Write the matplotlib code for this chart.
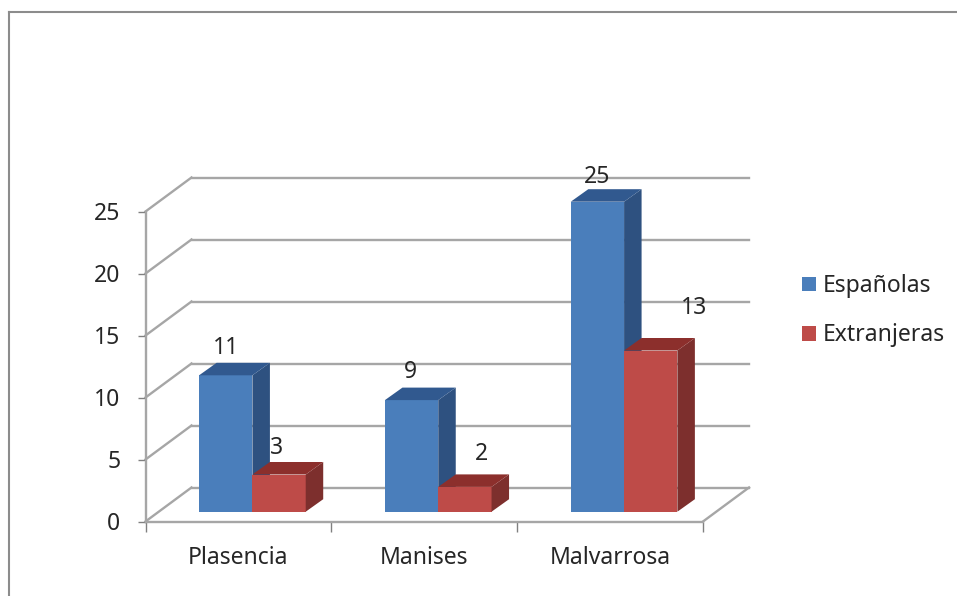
from matplotlib import pyplot as plt
from matplotlib.lines import Line2D
from matplotlib.patches import Polygon
import numpy as np

categories = ['Plasencia', 'Manises', 'Malvarrosa']
espanolas = [11, 9, 25]
extranjeras = [3, 2, 13]
y_ticks = [0, 5, 10, 15, 20, 25]

W, H = 957, 596
GRID = '#a6a6a6'
TEXT = '#262626'
FS = 16.5

plt.rcParams['font.family'] = ['Noto Sans', 'DejaVu Sans']

fig = plt.figure(figsize=(W / 100, H / 100), dpi=100)
# axes box is the front plane of the fake 3D chart
ax = fig.add_axes([145.5 / W, 1 - 521.5 / H, 557.5 / W, 310 / H])
ax.set_xlim(0, 3)
ax.set_ylim(0, 25)

px_x = 3 / 557.5
px_y = 25 / 310

# depth of the chart floor and of the bars
wall_dx, wall_dy = 46 * px_x, 34 * px_y
front_dx, front_dy = 14 * px_x, 9.8 * px_y
bar_dx, bar_dy = 17.5 * px_x, 12.5 * px_y
bar_w = 53.3 * px_x

# back wall and floor
for t in y_ticks:
    ax.plot([0, wall_dx], [t, t + wall_dy], color=GRID, lw=1.7, clip_on=False, zorder=1)
    ax.plot([wall_dx, 3 + wall_dx], [t + wall_dy, t + wall_dy], color=GRID, lw=1.7, clip_on=False, zorder=1)
ax.plot([3, 3 + wall_dx], [0, wall_dy], color=GRID, lw=1.7, clip_on=False, zorder=1)


def bar3d(x, value, front, side, top, label):
    ax.bar(x, value, bar_w, bottom=front_dy, align='edge', color=front, clip_on=False,
           zorder=3, label=label)
    y1 = front_dy + value
    ax.add_patch(Polygon([(x + bar_w, front_dy), (x + bar_w + bar_dx, front_dy + bar_dy),
                          (x + bar_w + bar_dx, y1 + bar_dy), (x + bar_w, y1)],
                         color=side, lw=0, clip_on=False, zorder=3))
    ax.add_patch(Polygon([(x, y1), (x + bar_dx, y1 + bar_dy),
                          (x + bar_w + bar_dx, y1 + bar_dy), (x + bar_w, y1)],
                         color=top, lw=0, clip_on=False, zorder=3))


for i in range(3):
    left = i + 0.5 - bar_w + front_dx
    bar3d(left, espanolas[i], '#4a7ebb', '#2e5180', '#31598f',
          'Españolas' if i == 0 else None)
    bar3d(left + bar_w, extranjeras[i], '#be4b48', '#7d2f2d', '#8c2f2c',
          'Extranjeras' if i == 0 else None)

# data labels, moved by hand like in the original chart
blue_offsets = [(0, 27), (-1, 28), (0, 25)]
red_offsets = [(-3, 26), (17, 33), (43, 42)]
for i in range(3):
    left = i + 0.5 - bar_w + front_dx
    for x, v, off in [(left + bar_w / 2, espanolas[i], blue_offsets[i]),
                      (left + bar_w * 1.5, extranjeras[i], red_offsets[i])]:
        ax.annotate(str(v), (x, v + front_dy), xytext=(off[0] * 0.72, off[1] * 0.72),
                    textcoords='offset points', ha='center', va='center',
                    fontsize=FS, color=TEXT, zorder=5, annotation_clip=False)

for s in ['top', 'right']:
    ax.spines[s].set_visible(False)
for s in ['left', 'bottom']:
    ax.spines[s].set_color(GRID)
    ax.spines[s].set_linewidth(1.7)

ax.set_yticks(y_ticks)
ax.tick_params(axis='y', length=6, width=1, color='#808080', labelsize=FS, labelcolor=TEXT, pad=12)
ax.set_xticks([0, 1, 2, 3])
ax.set_xticklabels([])
ax.tick_params(axis='x', which='major', length=7, width=1, color='#808080')
ax.set_xticks([0.5, 1.5, 2.5], minor=True)
ax.set_xticklabels(categories, minor=True)
ax.tick_params(axis='x', which='minor', length=0, labelsize=FS, labelcolor=TEXT, pad=18)

leg = ax.legend(loc='upper left', bbox_to_anchor=(802 / W, 1 - 274 / H), bbox_transform=fig.transFigure,
                frameon=False, fontsize=FS, handlelength=0.61, handleheight=0.61, handletextpad=0.3,
                labelspacing=1.11, borderpad=0, borderaxespad=0)
for t in leg.get_texts():
    t.set_color(TEXT)

# outer frame of the screenshot
fig.add_artist(Line2D([8.5 / W, 8.5 / W], [0, 1 - 12 / H], color='#8c8c8c', lw=1.5))
fig.add_artist(Line2D([8.5 / W, 1], [1 - 12 / H, 1 - 12 / H], color='#8c8c8c', lw=1.5))

fig.savefig('out.png', dpi=100)
